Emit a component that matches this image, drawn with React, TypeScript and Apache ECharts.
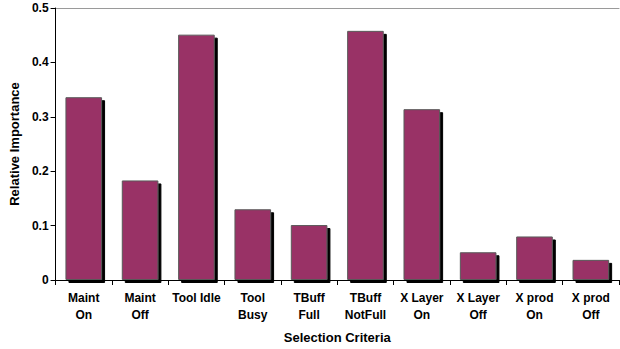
import React, { useEffect, useRef } from "react";
import * as echarts from "echarts";

const categories = [
  "Maint\nOn",
  "Maint\nOff",
  "Tool Idle",
  "Tool\nBusy",
  "TBuff\nFull",
  "TBuff\nNotFull",
  "X Layer\nOn",
  "X Layer\nOff",
  "X prod\nOn",
  "X prod\nOff",
];
const importance = [0.336, 0.183, 0.451, 0.13, 0.101, 0.458, 0.314, 0.051, 0.08, 0.037];
const yTicks = { min: 0, max: 0.5, interval: 0.1 };

const FONT = "Liberation Sans, Arial, sans-serif";

export default function App() {
  const ref = useRef<HTMLDivElement>(null);
  useEffect(() => {
    if (!ref.current) return;
    const chart = echarts.init(ref.current, undefined, { renderer: "svg" });
    chart.setOption({
      animation: false,
      backgroundColor: "#ffffff",
      grid: { left: 53, right: 1, top: 8, bottom: 66, containLabel: false },
      graphic: [
        {
          type: "rect",
          left: 54,
          top: 284,
          shape: { width: 566, height: 5 },
          style: { fill: "#ffffff" },
          z: 3,
          silent: true,
        },
      ],
      xAxis: [
        {
          type: "category",
          data: categories,
          z: 5,
          name: "Selection Criteria",
          nameLocation: "middle",
          nameGap: 51,
          nameTextStyle: { fontFamily: FONT, fontWeight: "bold", fontSize: 13, color: "#000" },
          axisLine: { lineStyle: { color: "#000", width: 1 } },
          axisTick: { show: true, length: 5, lineStyle: { color: "#000" }, alignWithLabel: false },
          axisLabel: {
            fontFamily: FONT,
            fontWeight: "bold",
            fontSize: 12,
            color: "#000",
            lineHeight: 17,
            margin: 9,
            interval: 0,
          },
        },
        {
          type: "category",
          position: "top",
          data: categories,
          axisLine: { show: true, lineStyle: { color: "#9a9a9a", width: 1 } },
          axisTick: { show: false },
          axisLabel: { show: false },
        },
      ],
      yAxis: {
        type: "value",
        min: yTicks.min,
        max: yTicks.max,
        interval: yTicks.interval,
        z: 5,
        name: "Relative Importance",
        nameLocation: "middle",
        nameGap: 32,
        nameTextStyle: { fontFamily: FONT, fontWeight: "bold", fontSize: 13, color: "#000" },
        axisLine: { show: true, lineStyle: { color: "#000", width: 1 } },
        axisTick: { show: true, length: 5, lineStyle: { color: "#000" } },
        splitLine: { show: false },
        axisLabel: {
          fontFamily: FONT,
          fontWeight: "bold",
          fontSize: 12,
          color: "#000",
          margin: 7,
          formatter: (v: number) => (v === 0 ? "0" : String(Math.round(v * 10) / 10)),
        },
      },
      series: [
        {
          type: "bar",
          xAxisIndex: 0,
          data: importance,
          barWidth: "65%",
          itemStyle: {
            color: "#993366",
            borderColor: "#5a5a5a",
            borderWidth: 1,
            shadowColor: "#000000",
            shadowBlur: 0,
            shadowOffsetX: 3,
            shadowOffsetY: 3,
          },
          emphasis: { disabled: true },
        },
      ],
    });
    return () => chart.dispose();
  }, []);
  return (
    <div
      ref={ref}
      style={{ position: "absolute", left: 0, top: 0, width: 620, height: 349 }}
    />
  );
}
